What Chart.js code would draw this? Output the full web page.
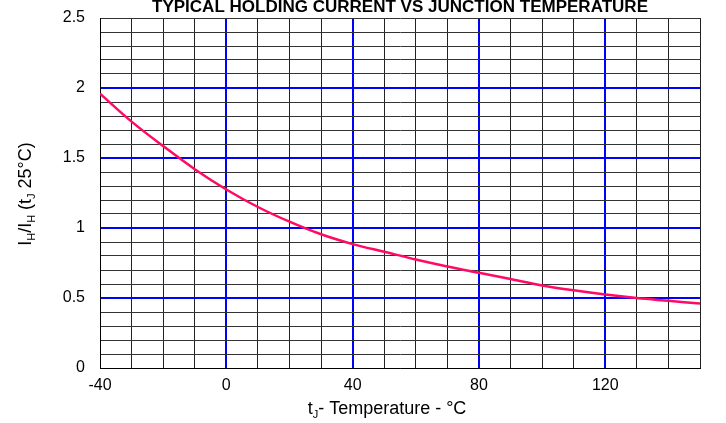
<!DOCTYPE html>
<html>
<head>
<meta charset="utf-8">
<script src="https://cdn.jsdelivr.net/npm/chart.js@4"></script>
<style>
  body { margin: 0; background: #fff; }
</style>
</head>
<body>
<canvas id="out" width="726" height="423"></canvas>
<script>
// temperature (°C) and relative holding current
const temps = [-40, -30, -20, -10, 0, 10, 20, 30, 40, 50, 60, 70, 80, 90, 100, 110, 120, 130, 140, 150];
const ratio = [1.96, 1.76, 1.585, 1.42, 1.275, 1.15, 1.045, 0.955, 0.885, 0.83, 0.775, 0.725, 0.68, 0.635, 0.59, 0.555, 0.525, 0.5, 0.48, 0.46];

const xLabels = [-40, 0, 40, 80, 120];
const xMajor = [0, 40, 80, 120];
const yMajor = [0.5, 1, 1.5, 2];

const chartTitle = "TYPICAL HOLDING CURRENT VS JUNCTION TEMPERATURE";

const near = (a, list) => list.some(v => Math.abs(v - a) < 1e-6);

// draws text made of [string, isSubscript] pieces starting at x (baseline y)
function drawParts(ctx, parts, x, y, size) {
  let pos = x;
  for (const [txt, sub] of parts) {
    ctx.font = (sub ? Math.round(size * 0.62) : size) + "px 'Liberation Sans', Arial, sans-serif";
    ctx.fillText(txt, pos, sub ? y + 4 : y);
    pos += ctx.measureText(txt).width;
  }
}
function partsWidth(ctx, parts, size) {
  let w = 0;
  for (const [txt, sub] of parts) {
    ctx.font = (sub ? Math.round(size * 0.62) : size) + "px 'Liberation Sans', Arial, sans-serif";
    w += ctx.measureText(txt).width;
  }
  return w;
}

const labelsPlugin = {
  id: "labels",
  afterDraw(chart) {
    const ctx = chart.ctx;
    const area = chart.chartArea;
    ctx.save();
    ctx.fillStyle = "#000";
    ctx.textBaseline = "alphabetic";
    ctx.textAlign = "left";

    // title, squeezed like the original
    ctx.font = "bold 16px 'Liberation Sans', Arial, sans-serif";
    const tw = ctx.measureText(chartTitle).width;
    const target = 496;
    ctx.save();
    ctx.translate((area.left + area.right) / 2, 12);
    ctx.scale(target / tw, 1);
    ctx.fillText(chartTitle, -tw / 2, 0);
    ctx.restore();

    // x axis title
    const xParts = [["t", false], ["J", true], ["- Temperature - °C", false]];
    const xw = partsWidth(ctx, xParts, 18);
    drawParts(ctx, xParts, 387 - xw / 2, 414, 18);

    // y axis title (rotated)
    const yParts = [["I", false], ["H", true], ["/I", false], ["H", true], [" (t", false], ["J", true], [" 25°C)", false]];
    const yw = partsWidth(ctx, yParts, 18);
    ctx.translate(31, 194);
    ctx.rotate(-Math.PI / 2);
    drawParts(ctx, yParts, -yw / 2, 0, 18);
    ctx.restore();
  }
};

const tickFont = { family: "'Liberation Sans', Arial, sans-serif", size: 16 };

new Chart(document.getElementById("out").getContext("2d"), {
  type: "scatter",
  data: {
    datasets: [{
      data: temps.map((t, i) => ({ x: t, y: ratio[i] })),
      showLine: true,
      borderColor: "#ff0a64",
      borderWidth: 2.5,
      pointRadius: 0,
      cubicInterpolationMode: "monotone"
    }]
  },
  options: {
    responsive: false,
    animation: false,
    layout: { padding: { top: 18, right: 26, left: 0, bottom: 0 } },
    plugins: { legend: { display: false }, tooltip: { enabled: false } },
    scales: {
      x: {
        type: "linear",
        min: -40,
        max: 150,
        afterFit(scale) {
          scale.height = 55;
          scale.paddingLeft = 0;
          scale.paddingRight = 0;
        },
        border: { display: true, color: "#000", width: 1 },
        grid: {
          drawTicks: false,
          color: c => near(c.tick.value, xMajor) ? "#0000ff" : "#222",
          lineWidth: c => near(c.tick.value, xMajor) ? 2 : 1
        },
        ticks: {
          stepSize: 10,
          autoSkip: false,
          maxRotation: 0,
          padding: 8,
          color: "#000",
          font: tickFont,
          callback: v => near(v, xLabels) ? String(v) : ""
        }
      },
      y: {
        min: 0,
        max: 2.5,
        afterFit(scale) {
          scale.width = 100;
          scale.paddingTop = 0;
          scale.paddingBottom = 0;
        },
        border: { display: true, color: "#000", width: 1 },
        grid: {
          drawTicks: false,
          color: c => near(c.tick.value, yMajor) ? "#0000ff" : "#333",
          lineWidth: c => near(c.tick.value, yMajor) ? 2 : 1
        },
        ticks: {
          stepSize: 0.1,
          autoSkip: false,
          padding: 15,
          color: "#000",
          font: tickFont,
          callback: v => Math.abs(v * 2 - Math.round(v * 2)) < 1e-6 ? String(Math.round(v * 10) / 10) : ""
        }
      }
    }
  },
  plugins: [labelsPlugin]
});
</script>
</body>
</html>
